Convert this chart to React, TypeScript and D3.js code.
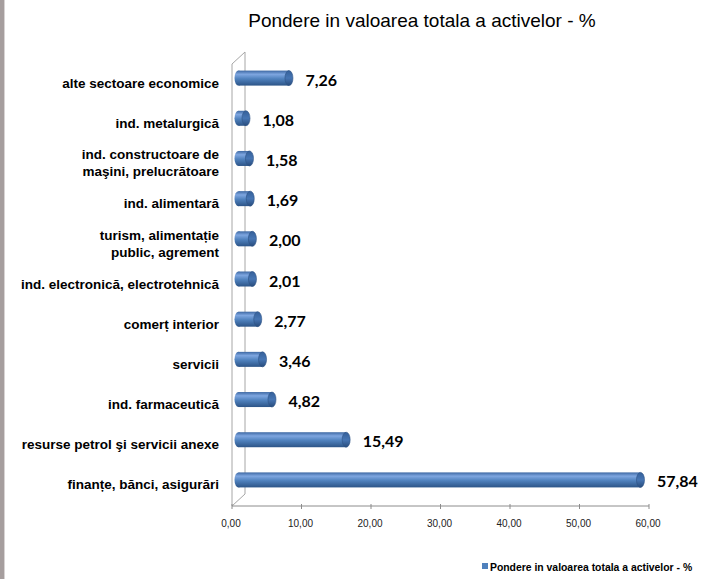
import { useEffect, useRef } from 'react';
import * as d3 from 'd3';

// ─── Data ───────────────────────────────────────────────────

const title = 'Pondere in valoarea totala a activelor - %';

const categories: string[][] = [
  ['alte sectoare economice'],
  ['ind. metalurgică'],
  ['ind. constructoare de', 'maşini, prelucrătoare'],
  ['ind. alimentară'],
  ['turism, alimentație', 'public, agrement'],
  ['ind. electronică, electrotehnică'],
  ['comerț interior'],
  ['servicii'],
  ['ind. farmaceutică'],
  ['resurse petrol şi servicii anexe'],
  ['finanțe, bănci, asigurări'],
];

const values = [7.26, 1.08, 1.58, 1.69, 2.0, 2.01, 2.77, 3.46, 4.82, 15.49, 57.84];

const xTicks = [0, 10, 20, 30, 40, 50, 60];

const fmt = (v: number) => v.toFixed(2).replace('.', ',');

// ─── Component ──────────────────────────────────────────────

export default function App() {
  const svgRef = useRef<SVGSVGElement>(null);

  useEffect(() => {
    if (!svgRef.current) return;
    const svg = d3.select(svgRef.current);
    svg.selectAll('*').remove();

    const H = 579;
    const depth = { dx: 13, dy: -12 };
    const axisY = 506;

    const x = d3.scaleLinear().domain([0, 60]).range([232, 649]);
    const y = d3.scaleBand<number>()
      .domain(d3.range(values.length))
      .range([58, 500]);
    const barH = 15;

    // left gray strip
    svg.append('rect').attr('x', 0).attr('y', 0).attr('width', 4).attr('height', H).attr('fill', '#a69e9e');
    svg.append('rect').attr('x', 4).attr('y', 0).attr('width', 1).attr('height', H).attr('fill', '#d8d4d4');

    // gradients
    const defs = svg.append('defs');
    const grad = defs.append('linearGradient').attr('id', 'cyl').attr('x1', 0).attr('y1', 0).attr('x2', 0).attr('y2', 1);
    grad.append('stop').attr('offset', '0%').attr('stop-color', '#3d68a3');
    grad.append('stop').attr('offset', '25%').attr('stop-color', '#7ea6e0');
    grad.append('stop').attr('offset', '55%').attr('stop-color', '#4f81bd');
    grad.append('stop').attr('offset', '100%').attr('stop-color', '#2c5487');
    const capGrad = defs.append('linearGradient').attr('id', 'cap').attr('x1', 0).attr('y1', 0).attr('x2', 0).attr('y2', 1);
    capGrad.append('stop').attr('offset', '0%').attr('stop-color', '#35609a');
    capGrad.append('stop').attr('offset', '50%').attr('stop-color', '#4675b3');
    capGrad.append('stop').attr('offset', '100%').attr('stop-color', '#284c7c');

    // title
    svg.append('text')
      .attr('x', 422).attr('y', 27)
      .attr('text-anchor', 'middle')
      .attr('font-family', '"Liberation Sans", Arial, sans-serif')
      .attr('font-size', '19px')
      .attr('fill', '#000')
      .text(title);

    // 3D walls
    const wallTop = 64;
    const wallColor = '#a6a6a6';
    const wall = svg.append('g').attr('stroke', wallColor).attr('fill', 'none').attr('stroke-width', 1);
    wall.append('line').attr('x1', x(0)).attr('x2', x(0)).attr('y1', wallTop).attr('y2', axisY);
    wall.append('line').attr('x1', x(0) + depth.dx).attr('x2', x(0) + depth.dx)
      .attr('y1', wallTop + depth.dy).attr('y2', axisY + depth.dy);
    wall.append('line').attr('x1', x(0)).attr('x2', x(0) + depth.dx)
      .attr('y1', wallTop).attr('y2', wallTop + depth.dy);
    wall.append('line').attr('x1', x(0)).attr('x2', x(0) + depth.dx)
      .attr('y1', axisY).attr('y2', axisY + depth.dy);

    // bars (cylinders)
    const ox = depth.dx / 2;
    const rx = 4;
    const bars = svg.append('g');
    values.forEach((v, i) => {
      const cy = (y(i) ?? 0) + y.bandwidth() / 2;
      const x0 = x(0) + ox;
      const x1 = x(v) + ox;
      const g = bars.append('g');
      g.append('ellipse').attr('cx', x0).attr('cy', cy).attr('rx', rx).attr('ry', barH / 2).attr('fill', 'url(#cyl)');
      g.append('rect').attr('x', x0).attr('y', cy - barH / 2).attr('width', x1 - x0).attr('height', barH).attr('fill', 'url(#cyl)');
      g.append('ellipse').attr('cx', x1).attr('cy', cy).attr('rx', rx).attr('ry', barH / 2)
        .attr('fill', 'url(#cap)').attr('stroke', '#2d5285').attr('stroke-width', 0.6);

      // value label
      svg.append('text')
        .attr('x', x(v) + 23).attr('y', cy + 1)
        .attr('dominant-baseline', 'central')
        .attr('font-family', 'Lato, "Open Sans", sans-serif')
        .attr('font-weight', 'bold')
        .attr('font-size', '16px')
        .attr('fill', '#000')
        .text(fmt(v));

      // category label
      const lines = categories[i];
      const lh = 17;
      const ly = cy + 5 - ((lines.length - 1) * lh) / 2;
      const t = svg.append('text')
        .attr('text-anchor', 'end')
        .attr('font-family', '"Liberation Sans", Arial, sans-serif')
        .attr('font-weight', 'bold')
        .attr('font-size', '13.5px')
        .attr('fill', '#000');
      lines.forEach((ln, k) => {
        t.append('tspan').attr('x', 219).attr('y', ly + k * lh).attr('dominant-baseline', 'central').text(ln);
      });
    });

    // bottom axis
    const ax = svg.append('g').attr('transform', `translate(0,${axisY})`);
    ax.append('line').attr('x1', x(0)).attr('x2', x(60)).attr('stroke', '#8c8c8c');
    ax.selectAll('line.tick').data(xTicks).join('line')
      .attr('class', 'tick')
      .attr('x1', (d) => x(d)).attr('x2', (d) => x(d))
      .attr('y1', -2).attr('y2', 3)
      .attr('stroke', '#8c8c8c');
    ax.selectAll('text').data(xTicks).join('text')
      .attr('x', (d) => x(d) - 1).attr('y', 17)
      .attr('dominant-baseline', 'central')
      .attr('text-anchor', 'middle')
      .attr('font-family', '"Liberation Sans", Arial, sans-serif')
      .attr('font-size', '10px')
      .attr('fill', '#222')
      .text((d) => fmt(d));

    // legend
    svg.append('rect').attr('x', 482).attr('y', 563).attr('width', 6).attr('height', 6).attr('fill', '#4f81bd');
    svg.append('text')
      .attr('x', 490).attr('y', 567)
      .attr('dominant-baseline', 'central')
      .attr('font-family', '"Liberation Sans", Arial, sans-serif')
      .attr('font-weight', 'bold')
      .attr('font-size', '10.4px')
      .attr('fill', '#000')
      .text(title);
  }, []);

  return (
    <svg
      ref={svgRef}
      width={702}
      height={579}
      style={{ position: 'absolute', left: 0, top: 0, background: '#fff' }}
    />
  );
}
